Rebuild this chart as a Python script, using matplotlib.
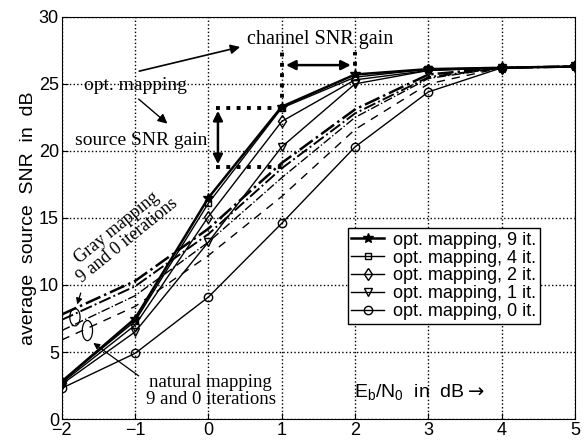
import matplotlib
matplotlib.use('Agg')
import matplotlib.pyplot as plt
from matplotlib.patches import Ellipse
import numpy as np

# Eb/N0 in dB
ebn0 = [-2, -1, 0, 1, 2, 3, 4, 5]

# optimized mapping, iterative decoding
opt_9 = [2.8, 7.5, 16.5, 23.3, 25.7, 26.1, 26.2, 26.3]
opt_4 = [2.8, 7.3, 16.1, 23.2, 25.5, 26.1, 26.2, 26.3]
opt_2 = [2.7, 7.0, 15.1, 22.2, 25.3, 26.0, 26.2, 26.3]
opt_1 = [2.6, 6.5, 13.2, 20.3, 25.0, 26.0, 26.2, 26.3]
opt_0 = [2.3, 4.9, 9.1, 14.6, 20.3, 24.4, 26.2, 26.3]

# Gray mapping and natural mapping (9 and 0 iterations)
gray_9 = [7.8, 10.3, 14.2, 19.1, 23.1, 25.7, 26.2, 26.3]
gray_0 = [7.4, 9.9, 13.8, 18.7, 22.8, 25.5, 26.2, 26.3]
nat_9 = [6.6, 9.2, 13.2, 18.0, 22.5, 25.4, 26.2, 26.3]
nat_0 = [5.9, 8.4, 12.2, 16.6, 21.6, 25.0, 26.2, 26.3]

leg_labels = ['opt. mapping, 9 it.', 'opt. mapping, 4 it.', 'opt. mapping, 2 it.',
              'opt. mapping, 1 it.', 'opt. mapping, 0 it.']

sans = 'Liberation Sans'
serif = 'Liberation Serif'

fig = plt.figure(figsize=(5.88, 4.43), dpi=100)
ax = fig.add_axes([0.105, 0.054, 0.873, 0.908])

ax.plot(ebn0, gray_9, color='k', ls='-.', lw=1.8)
ax.plot(ebn0, gray_0, color='k', ls='-.', lw=1.4)
ax.plot(ebn0, nat_9, color='k', ls='-.', lw=1.0)
ax.plot(ebn0, nat_0, color='k', ls='--', lw=1.0, dashes=(6, 5))

ax.plot(ebn0, opt_9, color='k', lw=1.8, marker='*', ms=7, label=leg_labels[0])
ax.plot(ebn0, opt_4, color='k', lw=1.0, marker='s', ms=5, mfc='none', label=leg_labels[1])
ax.plot(ebn0, opt_2, color='k', lw=1.0, marker='d', ms=6, mfc='none', label=leg_labels[2])
ax.plot(ebn0, opt_1, color='k', lw=1.0, marker='v', ms=6, mfc='none', label=leg_labels[3])
ax.plot(ebn0, opt_0, color='k', lw=1.0, marker='o', ms=6, mfc='none', label=leg_labels[4])

ax.set_xlim(-2, 5)
ax.set_ylim(0, 30)
ax.set_xticks(np.arange(-2, 6, 1))
ax.set_yticks(np.arange(0, 31, 5))
ax.set_xticklabels(['\u22122', '\u22121', '0', '1', '2', '3', '4', '5'], fontfamily=sans, fontsize=13)
ax.set_yticklabels([str(v) for v in range(0, 31, 5)], fontfamily=sans, fontsize=13)
ax.tick_params(direction='in', length=4, width=0.8, pad=2)
ax.grid(True, color='k', ls=':', lw=1.0)
ax.set_ylabel('average  source  SNR  in  dB', fontfamily=sans, fontsize=14, labelpad=1)

leg = ax.legend(loc='upper left', bbox_to_anchor=(0.557, 0.475), prop={'family': sans, 'size': 13},
                frameon=True, fancybox=False, edgecolor='k', framealpha=1, borderpad=0.2,
                labelspacing=0.05, handlelength=1.8, handletextpad=0.5, borderaxespad=0)
leg.get_frame().set_linewidth(1.0)

# annotations: channel / source SNR gain
ax.text(1.52, 28.3, 'channel SNR gain', fontfamily=serif, fontsize=14.5, ha='center', va='center')
ax.text(-0.99, 24.9, 'opt. mapping', fontfamily=serif, fontsize=14, ha='center', va='center')
ax.text(-0.91, 20.8, 'source SNR gain', fontfamily=serif, fontsize=14, ha='center', va='center')
ax.annotate('', xy=(0.47, 27.8), xytext=(-0.98, 25.9),
            arrowprops=dict(arrowstyle='-|>', color='k', lw=1.2, mutation_scale=14))
ax.annotate('', xy=(-0.53, 21.9), xytext=(-0.98, 24.0),
            arrowprops=dict(arrowstyle='-|>', color='k', lw=1.0, mutation_scale=14))

ax.plot([0.1, 1.0], [23.2, 23.2], color='k', ls=':', lw=2.8)
ax.plot([0.1, 1.0], [18.8, 18.8], color='k', ls=':', lw=2.8)
ax.plot([1.0, 1.0], [23.2, 27.4], color='k', ls=':', lw=2.8)
ax.plot([2.0, 2.0], [25.6, 27.4], color='k', ls=':', lw=2.8)
ax.annotate('', xy=(0.13, 23.2), xytext=(0.13, 18.8),
            arrowprops=dict(arrowstyle='<|-|>', color='k', lw=1.8, mutation_scale=14))
ax.annotate('', xy=(1.02, 26.4), xytext=(1.98, 26.4),
            arrowprops=dict(arrowstyle='<|-|>', color='k', lw=1.8, mutation_scale=14))

# Gray / natural mapping labels
ax.text(-1.18, 13.8, 'Gray mapping\n9 and 0 iterations', fontfamily=serif, fontsize=13,
        ha='center', va='center', rotation=39, linespacing=0.95, rotation_mode='anchor')
ax.add_patch(Ellipse((-1.82, 7.6), 0.14, 1.3, fill=False, color='k', lw=0.9))
ax.add_patch(Ellipse((-1.65, 6.6), 0.14, 1.5, fill=False, color='k', lw=0.9))
ax.annotate('', xy=(-1.80, 8.35), xytext=(-1.73, 9.6),
            arrowprops=dict(arrowstyle='-|>', color='k', lw=0.9, mutation_scale=9))
ax.annotate('', xy=(-1.6, 5.8), xytext=(-0.92, 3.1),
            arrowprops=dict(arrowstyle='-|>', color='k', lw=0.9, mutation_scale=9))
ax.text(0.03, 2.1, 'natural mapping\n9 and 0 iterations', fontfamily=serif, fontsize=13.5,
        ha='center', va='center', linespacing=0.95)

ax.text(1.98, 2.0, r'$\mathregular{E_b/N_0}$  in  dB$\rightarrow$', fontfamily=sans, fontsize=14,
        ha='left', va='center')

fig.savefig('out.png', dpi=100)
